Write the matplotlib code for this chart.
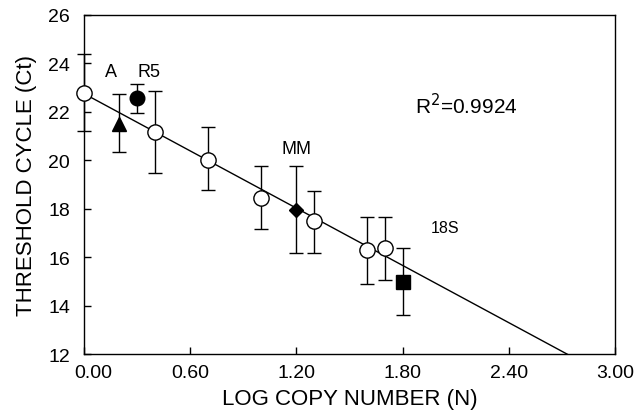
import matplotlib.pyplot as plt
import matplotlib.transforms as mtransforms
import numpy as np

plt.rcParams["font.family"] = ["Liberation Sans", "DejaVu Sans"]

# standards (open circles)
std_x = [0.0, 0.40, 0.70, 1.00, 1.30, 1.60, 1.70]
std_y = [22.78, 21.15, 20.02, 18.45, 17.48, 16.28, 16.38]
std_lo = [21.22, 19.47, 18.76, 17.18, 16.17, 14.87, 15.07]
std_hi = [24.38, 22.88, 21.37, 19.75, 18.74, 17.64, 17.64]

# samples (filled markers)
smp_names = ["A", "R5", "MM", "18S"]
smp_x = [0.20, 0.30, 1.20, 1.80]
smp_y = [21.50, 22.56, 17.96, 14.96]
smp_lo = [20.35, 21.95, 16.17, 13.59]
smp_hi = [22.74, 23.15, 19.75, 16.38]
smp_marker = ["^", "o", "D", "s"]
smp_size = [10, 10.5, 7.5, 10.5]
label_x = [0.15, 0.37, 1.20, 2.04]
label_y = [23.66, 23.66, 20.50, 17.22]
label_fs = [13, 13, 13, 11.5]

# regression line
fit_intercept = 22.75
fit_slope = -3.94
r2 = 0.9924

fig = plt.figure(figsize=(6.34, 4.14), dpi=100)
ax = fig.add_axes([0.1325, 0.1425, 0.8375, 0.8190])

xl = np.array([0.0, 3.0])
ax.plot(xl, fit_intercept + fit_slope * xl, color="black", lw=1.0, zorder=2)

sy = np.array(std_y)
ax.errorbar(std_x, sy, yerr=[sy - np.array(std_lo), np.array(std_hi) - sy],
            fmt="o", mfc="white", mec="black", mew=1.0, ms=11,
            ecolor="black", elinewidth=1.0, capsize=4.7, capthick=1.0, zorder=3, clip_on=False)

for i in range(len(smp_names)):
    ax.errorbar([smp_x[i]], [smp_y[i]],
                yerr=[[smp_y[i] - smp_lo[i]], [smp_hi[i] - smp_y[i]]],
                fmt=smp_marker[i], mfc="black", mec="black", ms=smp_size[i],
                ecolor="black", elinewidth=1.0, capsize=4.7, capthick=1.0, zorder=4)
    ax.text(label_x[i], label_y[i], smp_names[i], ha="center", va="center", fontsize=label_fs[i])

ax.text(2.16, 22.31, "R$^2$=%.4f" % r2, ha="center", va="center", fontsize=15)

ax.set_xlim(0, 3.0)
ax.set_ylim(12, 26)
ax.set_xticks(np.arange(0, 3.01, 0.6))
ax.set_xticklabels(["0.00", "0.60", "1.20", "1.80", "2.40", "3.00"])
ax.set_yticks(np.arange(12, 27, 2))
ax.tick_params(direction="in", length=5, width=1.0, labelsize=14)
ax.tick_params(axis="x", pad=7)
ax.tick_params(axis="y", pad=10)
lab0 = ax.get_xticklabels()[0]
lab0.set_transform(lab0.get_transform() + mtransforms.ScaledTranslation(0.09, 0, fig.dpi_scale_trans))
for s in ax.spines.values():
    s.set_linewidth(1.0)

ax.set_xlabel("LOG COPY NUMBER (N)", fontsize=16, labelpad=5)
ax.set_ylabel("THRESHOLD CYCLE (Ct)", fontsize=16, labelpad=8)

fig.savefig("out.png", dpi=100)
